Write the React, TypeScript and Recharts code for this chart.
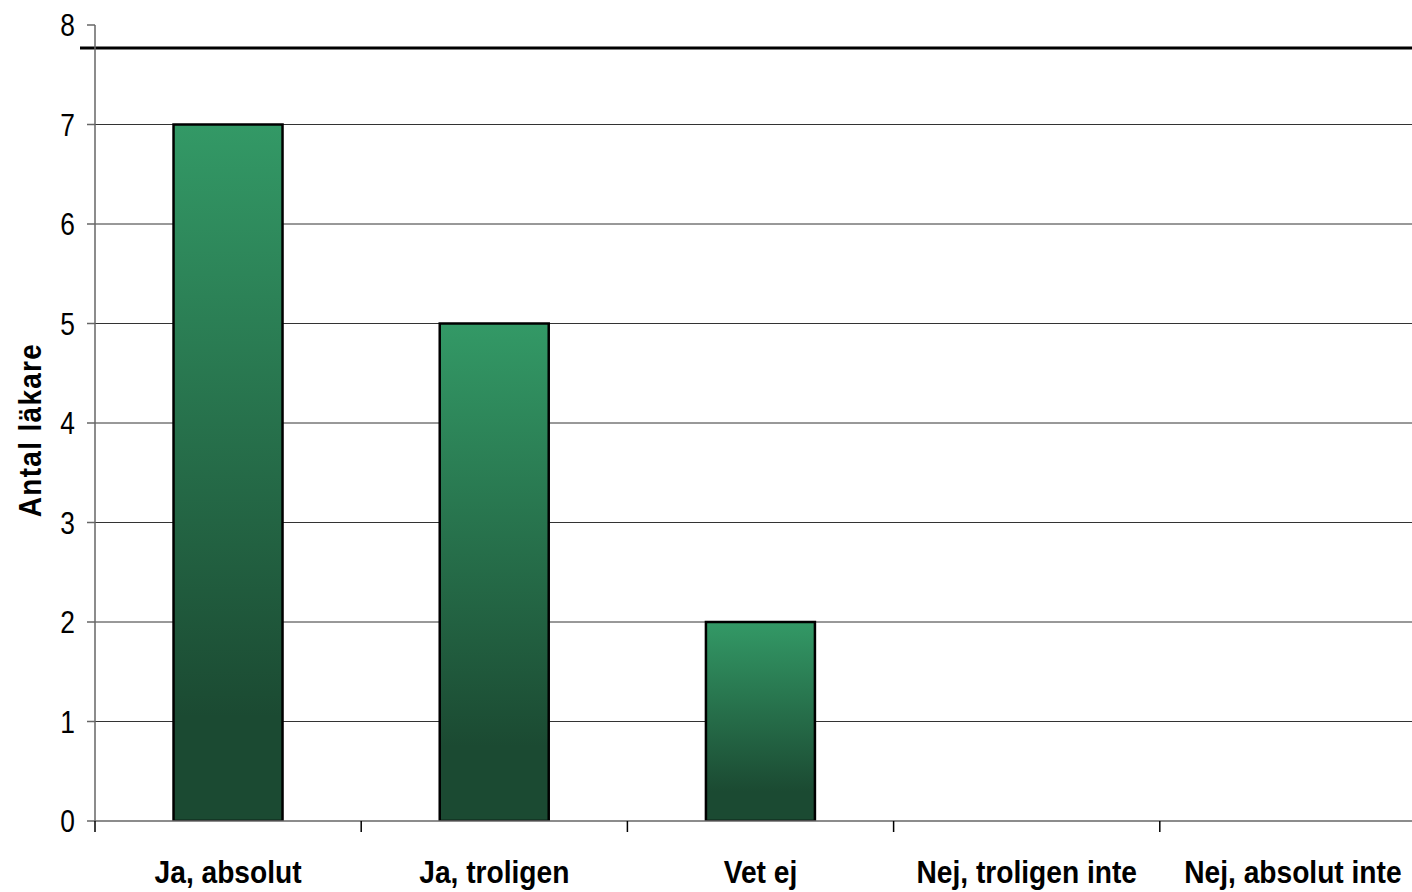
import React from 'react';
import { BarChart, Bar, XAxis, YAxis, CartesianGrid, ReferenceLine } from 'recharts';

const categories = ['Ja, absolut', 'Ja, troligen', 'Vet ej', 'Nej, troligen inte', 'Nej, absolut inte'];
const counts = [7, 5, 2, 0, 0];
const yTicks = [0, 1, 2, 3, 4, 5, 6, 7, 8];
const gridValues = [1, 2, 3, 4, 5, 6, 7];
const topBorderValue = 7.77;

const data = categories.map((name, i) => ({ name, value: counts[i] }));

const FONT = '"Liberation Sans", Arial, sans-serif';

const XTick = (props: any) => {
    const { x, y, payload } = props;
    const half = payload && payload.offset ? payload.offset : 133;
    return (
        <g>
            <line x1={x - half} y1={y - 11} x2={x - half} y2={y} stroke="#000" strokeWidth={1.5} />
            <g transform={`translate(${x},${y + 51}) scale(0.88,1)`}>
                <text x={0} y={0} textAnchor="middle" fontFamily={FONT} fontWeight="bold" fontSize={32} fill="#000">
                    {payload.value}
                </text>
            </g>
        </g>
    );
};

const YTick = (props: any) => {
    const { x, y, payload } = props;
    return (
        <g transform={`translate(${x},${y}) scale(0.85,1)`}>
            <text x={0} y={0} dy={11} textAnchor="end" fontFamily={FONT} fontSize={31} fill="#000">
                {payload.value}
            </text>
        </g>
    );
};

const YTitle = (props: any) => {
    const vb = props.viewBox || { x: 0, y: 25, width: 95, height: 796 };
    const cy = vb.y + vb.height / 2 + 7;
    return (
        <g transform={`translate(30,${cy}) rotate(-90) scale(0.9,1)`}>
            <text
                x={0}
                y={0}
                textAnchor="middle"
                dominantBaseline="central"
                fontFamily={FONT}
                fontWeight="bold"
                fontSize={31}
                letterSpacing={1.5}
                fill="#000"
            >
                Antal läkare
            </text>
        </g>
    );
};

export default function App() {
    return (
        <div style={{ position: 'absolute', left: 0, top: 0, width: 1412, height: 892, overflow: 'hidden', background: '#fff' }}>
            <BarChart
                width={1426}
                height={892}
                data={data}
                margin={{ top: 25, right: 0, left: 0, bottom: 0 }}
                barCategoryGap="29.5%"
            >
                <defs>
                    <linearGradient id="barGreen" x1="0" y1="0" x2="0" y2="1">
                        <stop offset="0%" stopColor="#339966" />
                        <stop offset="85%" stopColor="#1b4a32" />
                        <stop offset="100%" stopColor="#1b4a32" />
                    </linearGradient>
                </defs>
                <CartesianGrid vertical={false} horizontalValues={gridValues} stroke="#333" strokeWidth={1} />
                <XAxis
                    dataKey="name"
                    height={71}
                    axisLine={{ stroke: '#666', strokeWidth: 1.5 }}
                    tickLine={false}
                    tickSize={11}
                    tickMargin={0}
                    interval={0}
                    tick={<XTick />}
                />
                <YAxis
                    width={95}
                    domain={[0, 8]}
                    ticks={yTicks}
                    interval={0}
                    allowDataOverflow
                    axisLine={{ stroke: '#666', strokeWidth: 1.5 }}
                    tickLine={{ stroke: '#666', strokeWidth: 1.5 }}
                    tickSize={8}
                    tickMargin={12}
                    tick={<YTick />}
                    label={<YTitle />}
                />
                <Bar
                    dataKey="value"
                    fill="url(#barGreen)"
                    stroke="#000"
                    strokeWidth={2.5}
                    isAnimationActive={false}
                />
                <ReferenceLine
                    y={topBorderValue}
                    ifOverflow="visible"
                    shape={(p: any) => (
                        <line x1={p.x1 - 15} y1={p.y1} x2={p.x2} y2={p.y2} stroke="#000" strokeWidth={3} />
                    )}
                />
            </BarChart>
        </div>
    );
}
